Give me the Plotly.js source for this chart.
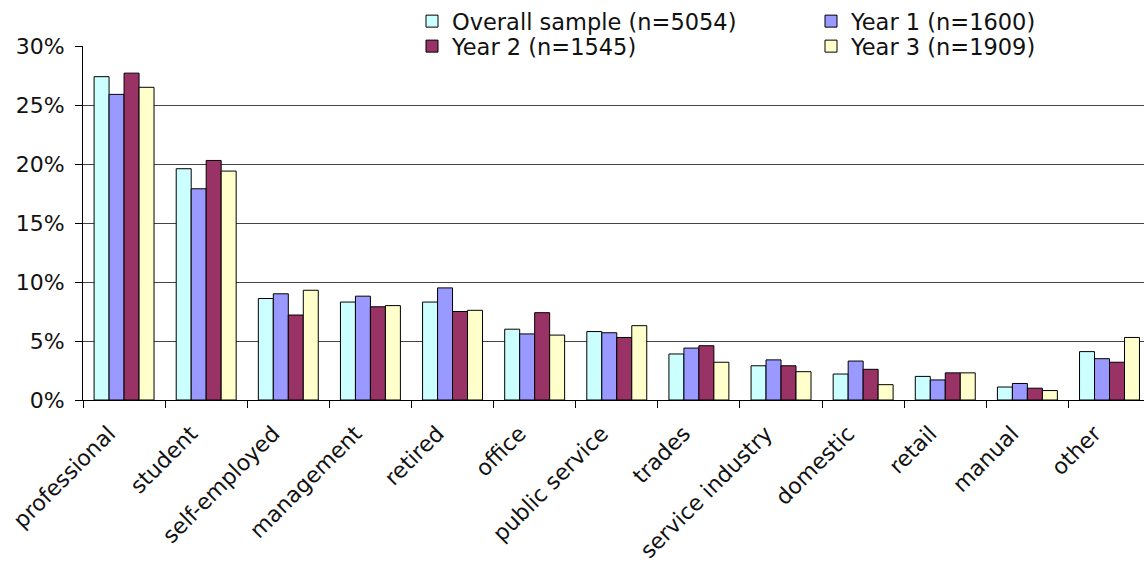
<!DOCTYPE html>
<html>
<head>
<meta charset="utf-8">
<script src="https://cdn.plot.ly/plotly-3.0.1.min.js"></script>
<style>
  html, body { margin: 0; padding: 0; background: #fff; }
  #chart { width: 1144px; height: 567px; }
</style>
</head>
<body>
<div id="chart"></div>
<script>
// ---- Data (percent of respondents by occupation) ----
const occupations = [
  'professional', 'student', 'self-employed', 'management', 'retired', 'office',
  'public service', 'trades', 'service industry', 'domestic', 'retail', 'manual', 'other'
];
const overallSample = [27.4, 19.6, 8.6, 8.3, 8.3, 6.0, 5.8, 3.9, 2.9, 2.2, 2.0, 1.1, 4.1];
const year1 =         [25.9, 17.9, 9.0, 8.8, 9.5, 5.6, 5.7, 4.4, 3.4, 3.3, 1.7, 1.4, 3.5];
const year2 =         [27.7, 20.3, 7.2, 7.9, 7.5, 7.4, 5.3, 4.6, 2.9, 2.6, 2.3, 1.0, 3.2];
const year3 =         [26.5, 19.4, 9.3, 8.0, 7.6, 5.5, 6.3, 3.2, 2.4, 1.3, 2.3, 0.8, 5.3];

const seriesNames = ['Overall sample (n=5054)', 'Year 1 (n=1600)', 'Year 2 (n=1545)', 'Year 3 (n=1909)'];
const seriesColors = ['#ccffff', '#9999ff', '#993366', '#ffffcc'];
const seriesValues = [overallSample, year1, year2, year3];
// legend rows: first two series on row 1, last two on row 2
const legendRows = ['legend', 'legend', 'legend2', 'legend2'];

const FONT = 'DejaVu Sans, sans-serif';
const TEXT = '#111';
const W = 1144, H = 567;
const M = { l: 83, r: 0, t: 46, b: 167 };
const plotW = W - M.l - M.r, plotH = H - M.t - M.b;

const traces = seriesValues.map((vals, i) => ({
  type: 'bar',
  name: seriesNames[i],
  legend: legendRows[i],
  x: occupations,
  y: vals,
  marker: { color: seriesColors[i], line: { color: '#000', width: 1 } },
  hoverinfo: 'x+y+name',
}));

// shared legend style, one legend per row
const legendBase = {
  orientation: 'h',
  xref: 'container',
  yref: 'container',
  x: 412 / W,
  xanchor: 'left',
  yanchor: 'top',
  entrywidth: 354,
  entrywidthmode: 'pixels',
  bgcolor: 'rgba(0,0,0,0)',
  borderwidth: 0,
  itemwidth: 30,
  traceorder: 'normal',
  font: { family: FONT, size: 22.5, color: TEXT },
};

const layout = {
  width: W,
  height: H,
  margin: Object.assign({ autoexpand: false }, M),
  paper_bgcolor: '#fff',
  plot_bgcolor: '#fff',
  font: { family: FONT, size: 22, color: TEXT },
  barmode: 'group',
  bargap: 0.27,
  bargroupgap: 0,
  xaxis: {
    type: 'category',
    range: [-0.5, 12.42],
    tickangle: -45,
    ticks: 'outside',
    tickson: 'boundaries',
    ticklen: 7,
    tickcolor: '#000',
    ticklabelshift: -15,
    ticklabelstandoff: 11,
    showline: true,
    linecolor: '#000',
    linewidth: 1,
    showgrid: false,
    tickfont: { family: FONT, size: 22, color: TEXT },
  },
  yaxis: {
    range: [0, 30],
    dtick: 5,
    ticksuffix: '%',
    ticks: 'outside',
    ticklen: 7,
    tickcolor: '#000',
    ticklabelstandoff: 6,
    showline: true,
    linecolor: '#000',
    linewidth: 1,
    showgrid: true,
    gridcolor: '#444',
    gridwidth: 1,
    zeroline: false,
    tickfont: { family: FONT, size: 22, color: TEXT },
  },
  // white box behind the legend hides the top gridline there
  shapes: [{
    type: 'rect',
    layer: 'above',
    xref: 'paper',
    yref: 'paper',
    x0: (383 - M.l) / plotW,
    x1: 1,
    y0: 1 - 14 / plotH,
    y1: 1 + 10 / plotH,
    fillcolor: '#fff',
    line: { width: 0 },
  }],
  legend: Object.assign({}, legendBase, { y: 1 - 0 / H }),
  legend2: Object.assign({}, legendBase, { y: 1 - 25 / H }),
  showlegend: true,
};

Plotly.newPlot('chart', traces, layout, { displayModeBar: false, staticPlot: true });
</script>
</body>
</html>
